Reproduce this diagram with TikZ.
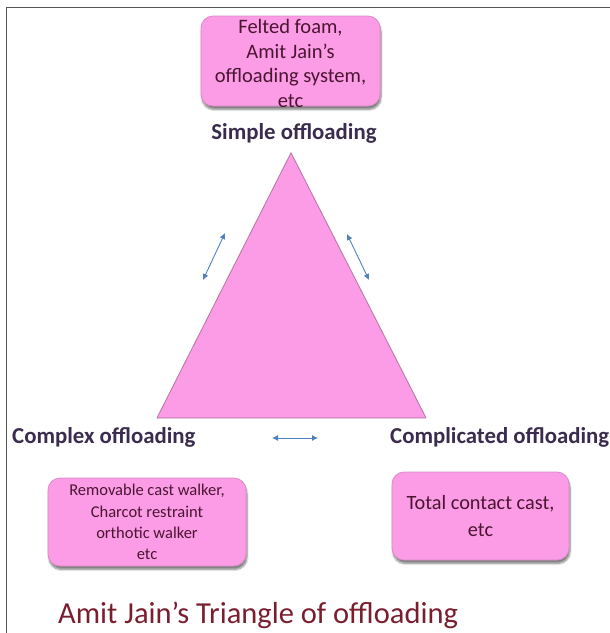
\documentclass[tikz,border=0pt]{standalone}
\usepackage{fontspec}
\setmainfont{Carlito}
\usetikzlibrary{shadows.blur,arrows.meta}
\definecolor{pinkfill}{HTML}{FC9CE6}
\definecolor{pinkedge}{HTML}{D98BC6}
\definecolor{boxtext}{HTML}{4A1531}
\definecolor{headtext}{HTML}{3A2C4E}
\definecolor{titletext}{HTML}{7A1E2E}
\definecolor{arrowblue}{HTML}{4F81BD}
\definecolor{framegray}{HTML}{555555}
\tikzset{
  pinkbox/.style={draw=pinkedge, line width=0.8pt, fill=pinkfill, rounded corners=12pt,
    blur shadow={shadow xshift=1pt, shadow yshift=-3.5pt, shadow blur steps=6, shadow opacity=50},
    text=boxtext, align=center, inner sep=0pt},
  heading/.style={text=headtext, font=\fontsize{22.8}{27}\selectfont\bfseries, inner sep=0pt},
  relation/.style={draw=arrowblue, line width=0.9pt, {Latex[length=6pt,width=6pt]}-{Latex[length=6pt,width=6pt]}},
  frameline/.style={draw=framegray, line width=1.6pt}
}
\begin{document}
\begin{tikzpicture}[x=1pt,y=-1pt]
  \useasboundingbox (0,0) rectangle (610,633);
  % page frame: top and left edges
  \draw[frameline] (610,7.5) -- (6.5,7.5) -- (6.5,633);

  % top example box
  \node[pinkbox, minimum width=179pt, minimum height=90pt] (simplebox) at (290.5,61) {};
  \node[text=boxtext, align=center, inner sep=0pt,
        font=\fontsize{20.5}{24.5}\selectfont] (simpletext) at (290.5,63.5)
    {Felted foam,\\Amit Jain’s\\offloading system,\\etc};
  \node[heading] (simple) at (294,133) {Simple offloading};

  % the triangle
  \coordinate (apex) at (291,153);
  \coordinate (bl) at (157,418);
  \coordinate (br) at (426,418);
  \fill[pinkedge!70!gray, opacity=0.5] ([yshift=1.5pt]apex) -- ([yshift=1.5pt]bl) -- ([yshift=1.5pt]br) -- cycle;
  \draw[draw=pinkedge!80!black, line width=0.6pt, fill=pinkfill] (apex) -- (bl) -- (br) -- cycle;

  % double-headed arrows along the sides
  \coordinate (la1) at (203,280);
  \coordinate (la2) at (225,233);
  \coordinate (ra1) at (347,234);
  \coordinate (ra2) at (369,280);
  \coordinate (ba1) at (272,438);
  \coordinate (ba2) at (318,438);
  \draw[relation] (la1) -- (la2);
  \draw[relation] (ra1) -- (ra2);
  \draw[relation] (ba1) -- (ba2);

  % corner labels
  \node[heading, anchor=west] (complex) at (12,437) {Complex offloading};
  \node[heading, anchor=west] (complicated) at (390,437) {Complicated offloading};

  % lower example boxes
  \node[pinkbox, minimum width=198pt, minimum height=88pt,
        font=\fontsize{16.5}{21.3}\selectfont] (complexbox) at (147,522)
    {Removable cast walker,\\Charcot restraint\\orthotic walker\\etc};
  \node[pinkbox, minimum width=177pt, minimum height=88pt,
        font=\fontsize{20.3}{26.5}\selectfont] (complicatedbox) at (480.5,516)
    {Total contact cast,\\etc};

  % caption
  \node[anchor=west, text=titletext, font=\fontsize{30.5}{36}\selectfont, inner sep=0pt]
    (title) at (58,615) {Amit Jain’s Triangle of offloading};
\end{tikzpicture}
\end{document}
